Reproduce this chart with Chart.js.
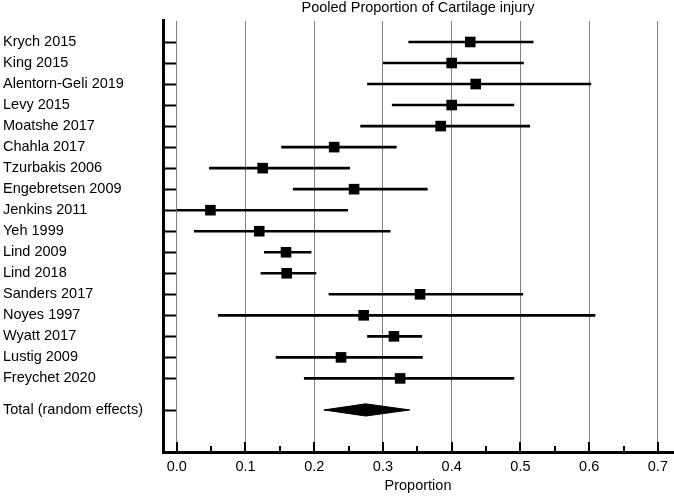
<!DOCTYPE html>
<html>
<head>
<meta charset="utf-8">
<script src="https://cdn.jsdelivr.net/npm/chart.js@4.4.1/dist/chart.umd.min.js"></script>
<style>
  html, body { margin: 0; padding: 0; background: #fff; }
  #wrap { position: relative; width: 674px; height: 497px; }
</style>
</head>
<body>
<div id="wrap"><canvas id="chart"></canvas></div>
<script>
// study rows, top to bottom
const studies = [
  'Krych 2015', 'King 2015', 'Alentorn-Geli 2019', 'Levy 2015', 'Moatshe 2017',
  'Chahla 2017', 'Tzurbakis 2006', 'Engebretsen 2009', 'Jenkins 2011', 'Yeh 1999',
  'Lind 2009', 'Lind 2018', 'Sanders 2017', 'Noyes 1997', 'Wyatt 2017',
  'Lustig 2009', 'Freychet 2020'
];
const estimates = [
  0.427, 0.400, 0.435, 0.400, 0.384,
  0.229, 0.125, 0.258, 0.049, 0.120,
  0.159, 0.160, 0.354, 0.272, 0.316,
  0.239, 0.325
];
const lowerCI = [
  0.337, 0.300, 0.277, 0.313, 0.267,
  0.152, 0.047, 0.169, 0.000, 0.025,
  0.127, 0.122, 0.221, 0.060, 0.277,
  0.144, 0.185
];
const upperCI = [
  0.519, 0.505, 0.603, 0.491, 0.514,
  0.320, 0.252, 0.365, 0.249, 0.311,
  0.196, 0.203, 0.504, 0.609, 0.357,
  0.358, 0.491
];

const totalLabel = 'Total (random effects)';
const totalEstimate = 0.275;
const totalLower = 0.214;
const totalUpper = 0.339;

const xTicks = [0, 0.05, 0.1, 0.15, 0.2, 0.25, 0.3, 0.35, 0.4, 0.45, 0.5, 0.55, 0.6, 0.65, 0.7];

// row positions on the y scale
const rowPos = studies.map((s, i) => i + 1);
const totalPos = studies.length + 1.5;
const yLabels = studies.concat([totalLabel]);
const yTickPos = rowPos.concat([totalPos]);
const diamondHalf = 0.29;

const isMajor = v => Math.abs(v * 10 - Math.round(v * 10)) < 1e-6;

// CI lines, broken between rows
const ciPoints = [];
studies.forEach((s, i) => {
  ciPoints.push({ x: lowerCI[i], y: rowPos[i] });
  ciPoints.push({ x: upperCI[i], y: rowPos[i] });
  ciPoints.push({ x: null, y: null });
});

const estPoints = studies.map((s, i) => ({ x: estimates[i], y: rowPos[i] }));

const diamond = [
  { x: totalLower, y: totalPos },
  { x: totalEstimate, y: totalPos - diamondHalf },
  { x: totalUpper, y: totalPos },
  { x: totalEstimate, y: totalPos + diamondHalf },
  { x: totalLower, y: totalPos }
];

// small tick marks pointing into the plot
const innerTicks = {
  id: 'innerTicks',
  afterDatasetsDraw(chart) {
    const { ctx, chartArea, scales } = chart;
    ctx.save();
    ctx.strokeStyle = '#000';
    ctx.lineWidth = 2;
    ctx.beginPath();
    scales.y.ticks.forEach(t => {
      const py = Math.round(scales.y.getPixelForValue(t.value)) + 0.5;
      ctx.moveTo(chartArea.left, py);
      ctx.lineTo(chartArea.left + 13, py);
    });
    scales.x.ticks.forEach(t => {
      const px = Math.round(scales.x.getPixelForValue(t.value));
      const len = isMajor(t.value) ? 10 : 6;
      ctx.moveTo(px, chartArea.bottom);
      ctx.lineTo(px, chartArea.bottom - len);
    });
    ctx.stroke();
    ctx.restore();
  }
};

Chart.defaults.font.family = '"Liberation Sans", Arial, sans-serif';
Chart.defaults.color = '#000';

new Chart(document.getElementById('chart'), {
  type: 'scatter',
  data: {
    datasets: [
      {
        label: 'CI',
        data: ciPoints,
        showLine: true,
        borderColor: '#000',
        borderWidth: 2.6,
        pointRadius: 0,
        spanGaps: false
      },
      {
        label: 'Estimate',
        data: estPoints,
        pointStyle: 'rect',
        pointRadius: 7.5,
        backgroundColor: '#000',
        borderColor: '#000',
        borderWidth: 0
      },
      {
        label: 'Total',
        type: 'line',
        data: diamond,
        borderColor: '#000',
        borderWidth: 1,
        backgroundColor: '#000',
        fill: 'shape',
        pointRadius: 0,
        tension: 0
      }
    ]
  },
  options: {
    responsive: true,
    maintainAspectRatio: false,
    animation: false,
    layout: { autoPadding: false, padding: { left: 3, right: 1, top: 0, bottom: 0 } },
    plugins: {
      legend: { display: false },
      tooltip: { enabled: false },
      title: {
        display: true,
        text: 'Pooled Proportion of Cartilage injury',
        fullSize: false,
        font: { size: 14.5, weight: 'normal', lineHeight: 1.1 },
        padding: { top: 0, bottom: 5 }
      }
    },
    scales: {
      x: {
        type: 'linear',
        min: -0.02,
        max: 0.722,
        afterBuildTicks: scale => { scale.ticks = xTicks.map(v => ({ value: v })); },
        afterFit: scale => {
          scale.height = 45;
          scale.paddingLeft = 0;
          scale.paddingRight = 0;
        },
        ticks: {
          autoSkip: false,
          maxRotation: 0,
          padding: 6,
          font: { size: 14.5 },
          callback: v => isMajor(v) ? v.toFixed(1) : ''
        },
        grid: {
          drawTicks: false,
          color: c => (c.tick && isMajor(c.tick.value)) ? '#808080' : 'rgba(0,0,0,0)',
          lineWidth: 1
        },
        border: { display: true, color: '#000', width: 3 },
        title: {
          display: true,
          text: 'Proportion',
          font: { size: 14.5 },
          padding: { top: 0, bottom: 2 }
        }
      },
      y: {
        type: 'linear',
        reverse: true,
        min: 0,
        max: studies.length + 3.5,
        afterBuildTicks: scale => { scale.ticks = yTickPos.map(v => ({ value: v })); },
        afterFit: scale => {
          scale.width = 160;
          scale.paddingTop = 0;
          scale.paddingBottom = 0;
        },
        ticks: {
          autoSkip: false,
          crossAlign: 'far',
          font: { size: 14.5 },
          callback: (v, i) => yLabels[i]
        },
        grid: { drawOnChartArea: false, drawTicks: false },
        border: { display: true, color: '#000', width: 3 }
      }
    }
  },
  plugins: [innerTicks]
});
</script>
</body>
</html>
